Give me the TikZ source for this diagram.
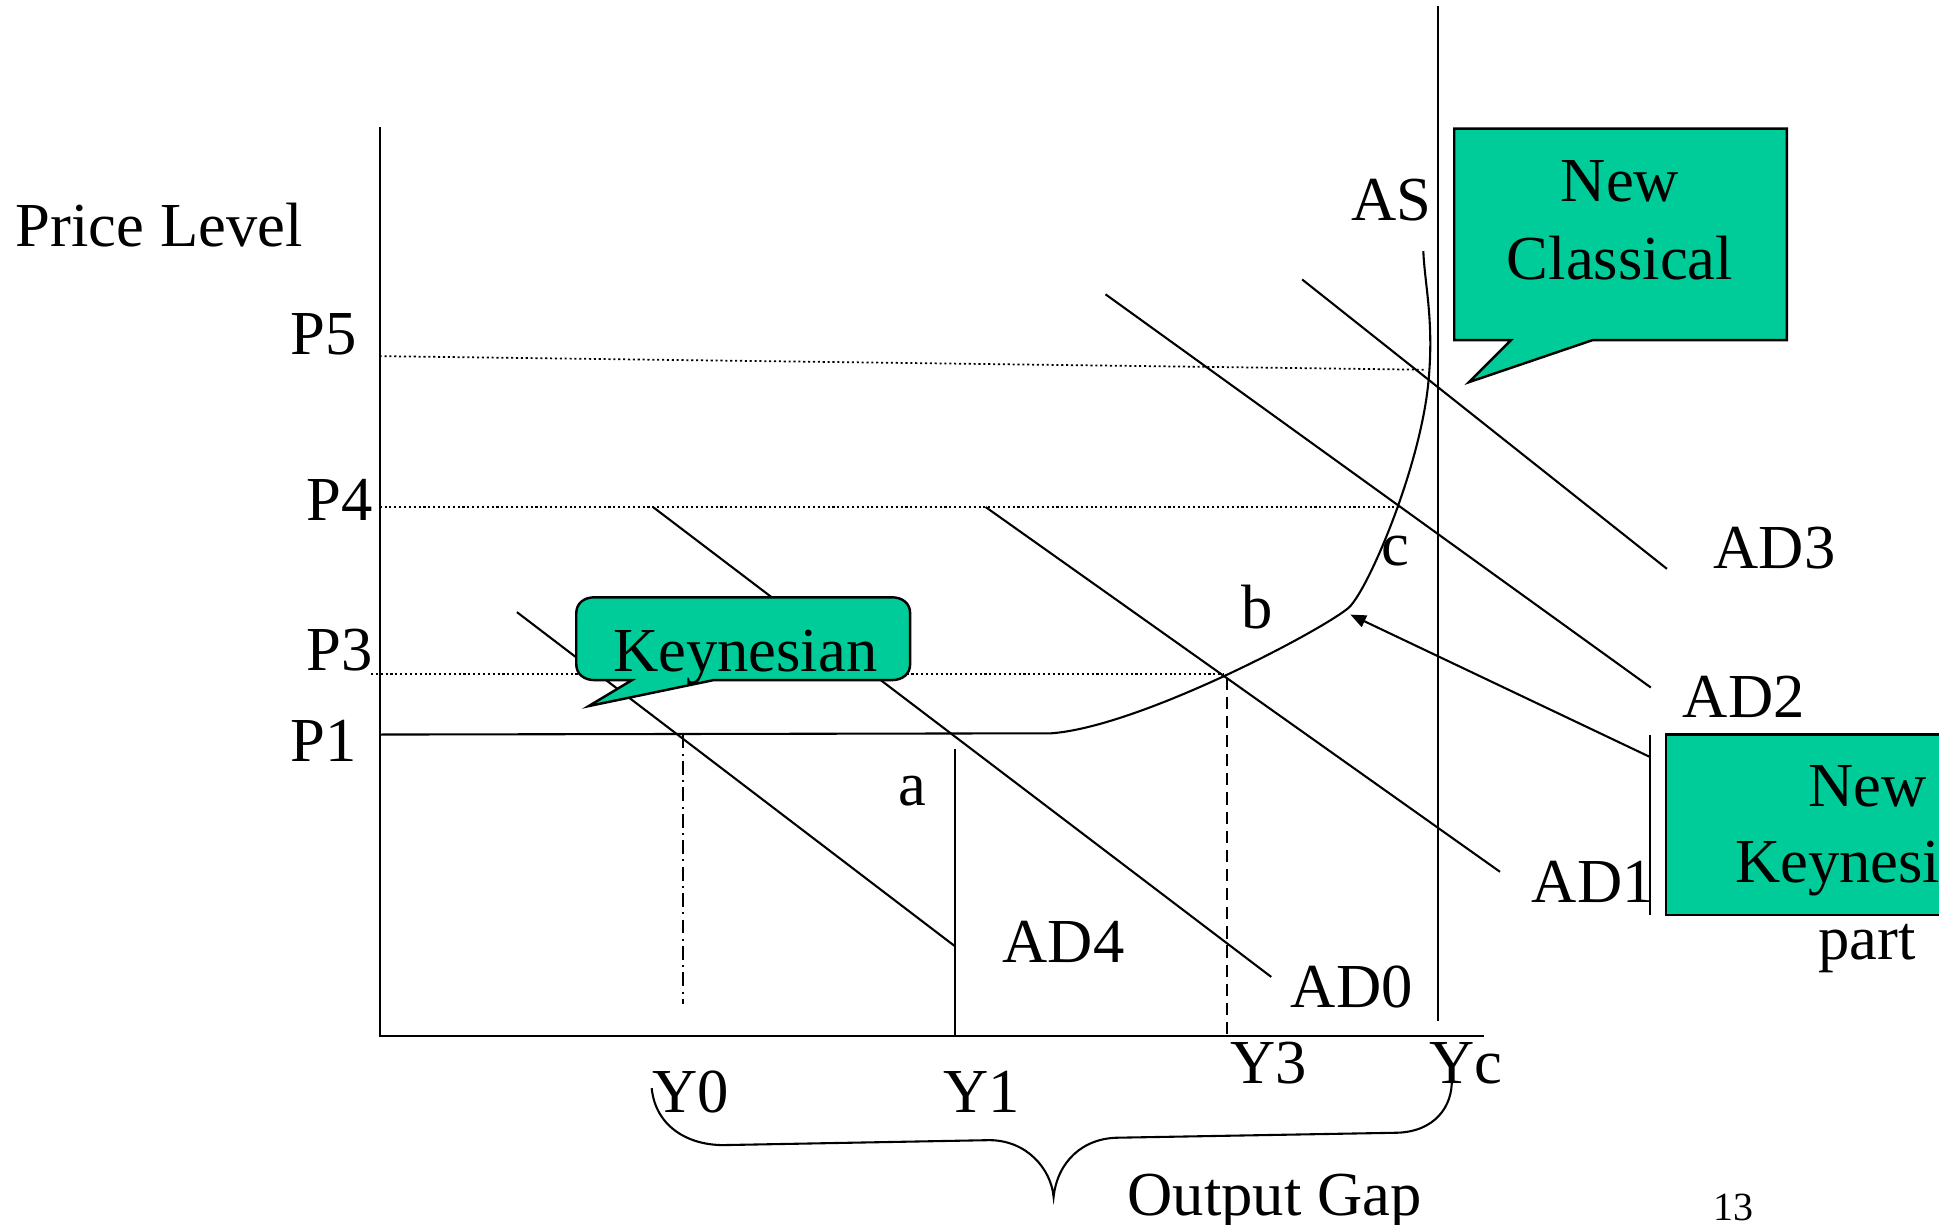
\documentclass[tikz,border=0pt]{standalone}
\usepackage{fontspec}
\setmainfont{Liberation Serif}
\usetikzlibrary{arrows.meta,calc}
\usetikzlibrary{positioning}
\definecolor{calloutgreen}{RGB}{0,204,153}

\begin{document}
\begin{tikzpicture}[x=0.0125cm,y=-0.0125cm,line width=0.6pt,>={Triangle[length=4.5pt,width=3.6pt]},every node/.style={inner sep=0pt,font=\fontsize{18}{21}\selectfont},lbl/.style={anchor=base west},clbl/.style={anchor=base},pline/.style={line width=0.5pt,dash pattern=on 0.6pt off 0.8pt},callout/.style={draw,fill=calloutgreen,line width=0.7pt,line join=miter}]
\useasboundingbox (0,0) rectangle (1568,990);
\clip (0,0) rectangle (1568,990);
\draw (307,103) -- (307,838) -- (1200,838);
\draw (1163,5) -- (1163,826);
\draw[pline] (307,288) -- (1153,299);
\draw[pline] (307,410) -- (1131,410);
\draw[pline] (300,545) -- (990,545);
\draw (307,594) -- (850,593) .. controls (920,588) and (1065,512) .. (1090,492) .. controls (1105,480) and (1148,380) .. (1155,310) .. controls (1160,260) and (1152,230) .. (1151,203);
\foreach \xa/\ya/\xb/\yb in {418/495/772/765,528/410/1028/790,797/410/1213/705,894/238/1335/556,1053/226/1348/460}
  \draw (\xa,\ya) -- (\xb,\yb);
\draw[dash pattern=on 4pt off 1.5pt on 0.6pt off 1.5pt] (552,594) -- (552,812);
\draw (772,606) -- (772,838);
\draw[dash pattern=on 3.5pt off 2pt] (992,548) -- (992,838);
\draw (527,880) .. controls (530,910) and (555,926) .. (585,926) -- (800,922) .. controls (830,922) and (850,945) .. (852,968) .. controls (855,940) and (875,920) .. (905,920) -- (1130,916) .. controls (1160,915) and (1175,895) .. (1174,872);
\draw[callout] (481,483) -- (721,483) .. controls (730,483) and (736,488) .. (736,496) -- (736,537) .. controls (736,545) and (730,550) .. (721,550) -- (577,550) -- (476,571) -- (511,550) -- (481,550) .. controls (472,550) and (466,545) .. (466,537) -- (466,496) .. controls (466,488) and (472,483) .. (481,483) -- cycle;
\draw[callout] (1176,104) -- (1445,104) -- (1445,275) -- (1288,275) -- (1188,309) -- (1222,275) -- (1176,275) -- cycle;
\draw[callout] (1347,594) rectangle (1700,740);
\coordinate (nkbar) at (1334,612);
\coordinate (knee) at (1092,497);
\draw (1334,594) -- (1334,740);
\draw[->] (nkbar) -- (knee);
\node[lbl] (price) at (12,199) {Price Level};
\foreach \t/\px/\py in {5/234/287,4/247/421,3/247/542,1/234/616}
  \node[lbl] (p\t) at (\px,\py) {P\t};
\foreach \t/\px/\py in {4/810/778,0/1043/815,1/1238/730,2/1360/580,3/1385/460}
  \node[lbl] (ad\t) at (\px,\py) {AD\t};
\foreach \t/\px/\py in {0/527/900,1/762/900,3/994/876,c/1155/876}
  \node[lbl] (y\t) at (\px,\py) {Y\t};
\node[clbl] (pa) at (738,651) {a};
\node[clbl] (pb) at (1017,508) {b};
\node[clbl] (pc) at (1128,457) {c};
\node[lbl] (as) at (1092,178) {AS};
\node[lbl] (keyn) at (495,543) {Keynesian};
\node[clbl] (nc1) at (1310,163) {New};
\node[clbl] (nc2) at (1310,226) {Classical};
\node[clbl] (nk1) at (1510,652) {New};
\node[clbl] (nk2) at (1510,714) {Keynesian};
\node[clbl] (nk3) at (1510,776) {part};
\node[lbl] (gap) at (911,983) {Output Gap};
\node[clbl,font=\fontsize{11.5}{13}\selectfont] (page) at (1402,987) {13};
\end{tikzpicture}
\end{document}
